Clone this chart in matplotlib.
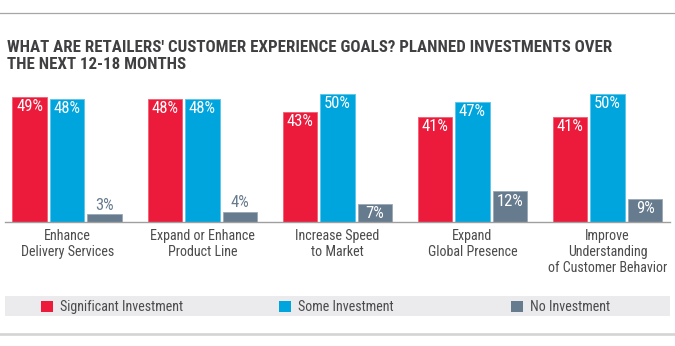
import matplotlib
matplotlib.use("Agg")
import matplotlib.pyplot as plt
from matplotlib.patches import Rectangle
from matplotlib.lines import Line2D
from matplotlib import font_manager as fm
from matplotlib.textpath import TextPath
from matplotlib.font_manager import FontProperties
import numpy as np

categories = ["Enhance\nDelivery Services", "Expand or Enhance\nProduct Line",
              "Increase Speed\nto Market", "Expand\nGlobal Presence",
              "Improve\nUnderstanding\nof Customer Behavior"]
significant = [49, 48, 43, 41, 41]
some = [48, 48, 50, 47, 50]
none_ = [3, 4, 7, 12, 9]
series_names = ["Significant Investment", "Some Investment", "No Investment"]
colors = ["#ec1b3b", "#00a5dd", "#677b8e"]
edges = ["#f25f74", "#5cc4ea", "#9aa8b6"]
title_lines = ["WHAT ARE RETAILERS' CUSTOMER EXPERIENCE GOALS? PLANNED INVESTMENTS OVER",
               "THE NEXT 12-18 MONTHS"]

W, H = 675, 346
weights = {}
for f in fm.fontManager.ttflist:
    if f.style == "normal":
        try:
            weights.setdefault(f.name, set()).add(int(f.weight))
        except (TypeError, ValueError):
            pass

CANDS = ["PT Sans Narrow", "PT Sans", "Fira Sans Condensed", "Fira Sans",
         "Source Sans 3", "Source Sans Pro", "Hind", "Roboto Condensed",
         "Open Sans", "Lato", "Noto Sans", "Roboto"]


def choose(sample, target_w_px, target_cap_px, weight):
    best, best_score = None, None
    for c in CANDS:
        ws = weights.get(c, set())
        if weight == "bold" and not any(w >= 650 for w in ws):
            continue
        if weight == "normal" and not any(350 <= w <= 450 for w in ws):
            continue
        try:
            fp = FontProperties(family=c, weight=weight)
            w = TextPath((0, 0), sample, size=10, prop=fp).get_extents().width
            cap = TextPath((0, 0), "H", size=10, prop=fp).get_extents().height
        except Exception:
            continue
        if w <= 0:
            continue
        scale = target_w_px / w
        score = abs(cap * scale - target_cap_px)
        if best_score is None or score < best_score:
            best, best_score = c, score
    return [best or "Lato", "DejaVu Sans"]


TITLEF = choose(title_lines[0], 606, 11.7, "bold")
BODY = choose("Delivery Services", 92.6, 10.0, "normal")
TEXT = "#4b4b4d"

fig = plt.figure(figsize=(W / 100, H / 100), dpi=100)
renderer = fig.canvas.get_renderer()


def fx(px):
    return px / W


def fy(py):
    return 1 - py / H


def fit(t, target):
    w = t.get_window_extent(renderer).width
    t.set_fontsize(t.get_fontsize() * target / w)
    return t.get_fontsize()


# top and bottom rules
fig.add_artist(Line2D([0, 1], [fy(13.3), fy(13.3)], color="#a6a6a6", lw=0.9))
fig.add_artist(Line2D([0, 1], [fy(333.5), fy(333.5)], color="#d4d4d4", lw=1.9))

# title
t1 = fig.text(fx(6.7), fy(51.7), title_lines[0], family=TITLEF, weight="bold",
              fontsize=12, color="#404042", va="baseline", ha="left")
tsize = fit(t1, 606)
fig.text(fx(6.7), fy(69), title_lines[1], family=TITLEF, weight="bold",
         fontsize=tsize, color="#404042", va="baseline", ha="left")

# axes
ppu = 2.56  # pixels per percent
left_px, right_px = 4.7, 670
base_px = 222
top_px = base_px - 60 * ppu
ax = fig.add_axes([fx(left_px), fy(base_px), fx(right_px - left_px),
                   (base_px - top_px) / H])
group_px = 135.1
center0 = 67.2
xmin = -(center0 - left_px) / group_px
xmax = xmin + (right_px - left_px) / group_px
ax.set_xlim(xmin, xmax)
ax.set_ylim(0, 60)
for s in ["top", "right", "left"]:
    ax.spines[s].set_visible(False)
ax.spines["bottom"].set_color("#9f9f9f")
ax.spines["bottom"].set_linewidth(1.0)
ax.set_yticks([])
ax.set_xticks([])

pct_per_px = 1 / ppu
x = np.arange(len(categories))
bw = 34.5 / group_px
off = 37.5 / group_px

probe = ax.text(0, 0, "49%", family=BODY, fontsize=10)
vsize = fit(probe, 27)
probe.remove()

data = [significant, some, none_]
for i, vals in enumerate(data):
    xs = x + (i - 1) * off
    ax.bar(xs, vals, width=bw, color=colors[i], edgecolor=edges[i], linewidth=0.6)
    for xi, v in zip(xs, vals):
        if v >= 6:
            ax.text(xi, v - 14.3 * pct_per_px, f"{v}%", ha="center", va="baseline",
                    color="white", family=BODY, fontsize=vsize)
        else:
            ax.text(xi, v + 4.5 * pct_per_px, f"{v}%", ha="center", va="baseline",
                    color=colors[2], family=BODY, fontsize=vsize)

probe = ax.text(0, 0, "Delivery Services", family=BODY, fontsize=10)
csize = fit(probe, 92.6)
probe.remove()
line_base = [240.3, 256.3, 272.3]
for xi, lab in zip(x, categories):
    for j, line in enumerate(lab.split("\n")):
        ax.text(xi, -(line_base[j] - base_px) * pct_per_px, line, ha="center",
                va="baseline", color=TEXT, family=BODY, fontsize=csize, clip_on=False)

# legend band
fig.add_artist(Rectangle((fx(5), fy(315.7)), fx(665), 19.7 / H,
                         facecolor="#ebebed", edgecolor="none"))
sq_x = [41, 279, 511]
txt_x = [60, 298, 530]
lsize = None
for sx, tx, c, name in zip(sq_x, txt_x, colors, series_names):
    fig.add_artist(Rectangle((fx(sx), fy(311.7)), fx(11.5), 11 / H, facecolor=c,
                             edgecolor="none"))
    t = fig.text(fx(tx), fy(311), name, ha="left", va="baseline", color=TEXT,
                 family=BODY, fontsize=10 if lsize is None else lsize)
    if lsize is None:
        lsize = fit(t, 123)

fig.savefig("out.png", dpi=100)
